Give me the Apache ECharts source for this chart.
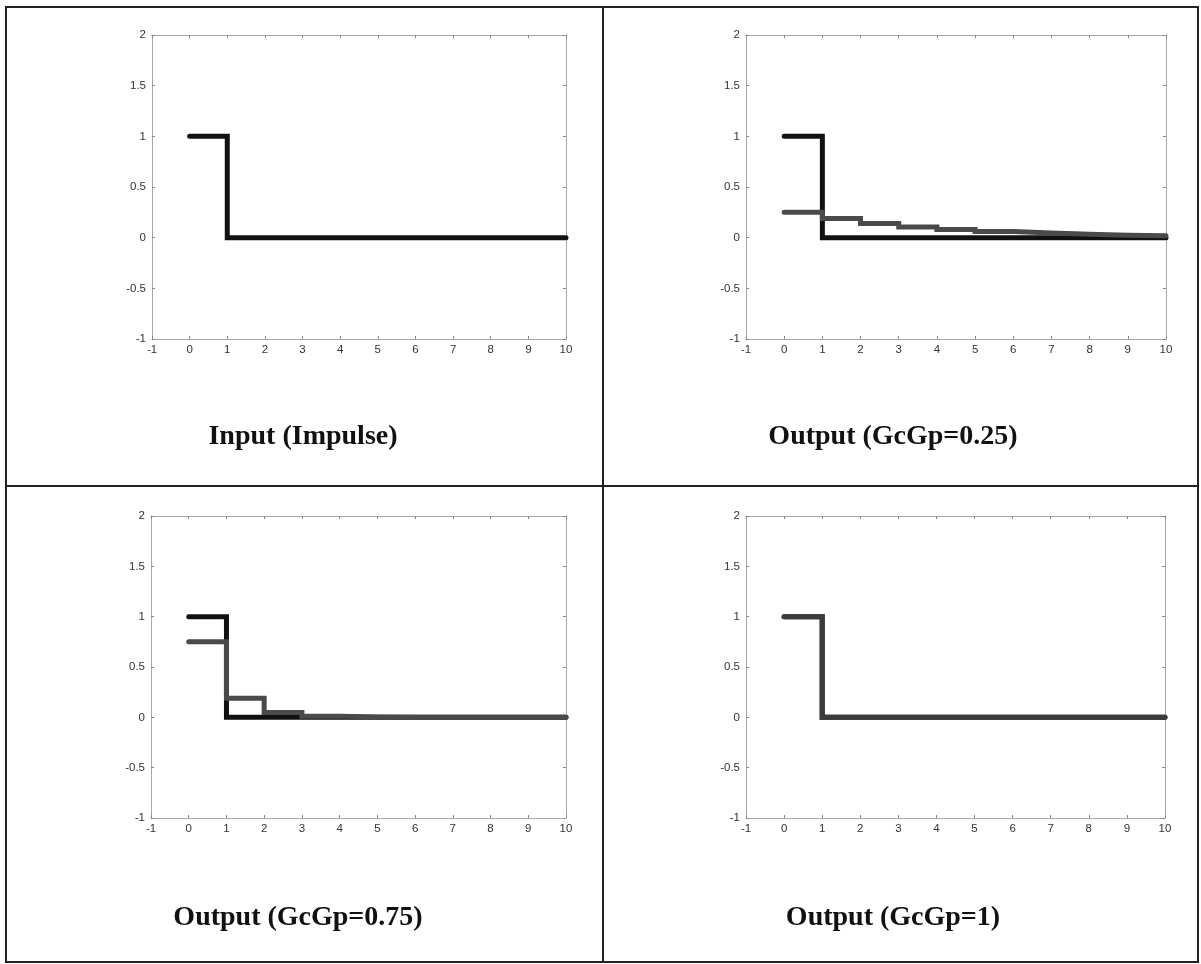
<!DOCTYPE html>
<html>
<head>
<meta charset="utf-8">
<script src="https://cdn.jsdelivr.net/npm/echarts@6/dist/echarts.min.js"></script>
<style>
html,body{margin:0;padding:0;background:#fff;}
#c{width:1201px;height:964px;}
</style>
</head>
<body>
<div id="c"></div>
<script>
// ---- data ----
const sampleK = [0, 1, 2, 3, 4, 5, 6, 7, 8, 9, 10];
const inputImpulse = [1, 0, 0, 0, 0, 0, 0, 0, 0, 0, 0];
const outputGain025 = [0.25, 0.19, 0.14, 0.105, 0.08, 0.06, 0.045, 0.034, 0.025, 0.019, 0.014];
const outputGain075 = [0.75, 0.19, 0.047, 0.012, 0.003, 0.001, 0, 0, 0, 0, 0];
const outputGain1 = [1, 0, 0, 0, 0, 0, 0, 0, 0, 0, 0];
const panelTitles = ['Input (Impulse)', 'Output (GcGp=0.25)', 'Output (GcGp=0.75)', 'Output (GcGp=1)'];

const chart = echarts.init(document.getElementById('c'), null, {renderer: 'canvas'});

const grids = [
  {left: 152, top: 35, width: 414, height: 304},
  {left: 746, top: 35, width: 420, height: 304},
  {left: 151, top: 516, width: 415, height: 302},
  {left: 746, top: 516, width: 419, height: 302}
];

const axisColor = '#a8a8a8';
const labelFont = {color: '#333', fontSize: 11.5, fontFamily: 'Liberation Sans, Arial, sans-serif'};

const xAxes = [], yAxes = [];
grids.forEach((g, i) => {
  const common = {
    gridIndex: i, type: 'value',
    axisLine: {show: true, onZero: false, lineStyle: {color: axisColor, width: 1}},
    axisTick: {show: true, inside: true, length: 3, lineStyle: {color: '#888'}},
    splitLine: {show: false}
  };
  xAxes.push(Object.assign({}, common, {position: 'bottom', min: -1, max: 10, interval: 1,
    axisLabel: Object.assign({margin: 5}, labelFont)}));
  xAxes.push(Object.assign({}, common, {position: 'top', min: -1, max: 10, interval: 1,
    axisLabel: {show: false}}));
  yAxes.push(Object.assign({}, common, {position: 'left', min: -1, max: 2, interval: 0.5,
    axisLabel: Object.assign({margin: 6}, labelFont)}));
  yAxes.push(Object.assign({}, common, {position: 'right', min: -1, max: 2, interval: 0.5,
    axisLabel: {show: false}}));
});

function pts(vals) { return sampleK.map((k, i) => [k, vals[i]]); }

function stairs(i, vals, color, z) {
  return {
    type: 'line', xAxisIndex: i * 2, yAxisIndex: i * 2, step: 'end',
    data: pts(vals), symbol: 'none', silent: true, z: z,
    lineStyle: {color: color, width: 5, cap: 'round', join: 'miter'}
  };
}

const black = '#111111';
const gray = '#4a4a4a';

const series = [
  stairs(0, inputImpulse, black, 2),
  stairs(1, inputImpulse, black, 2),
  stairs(1, outputGain025, gray, 3),
  stairs(2, inputImpulse, black, 2),
  stairs(2, outputGain075, gray, 3),
  stairs(3, inputImpulse, black, 2),
  stairs(3, outputGain1, '#3c3c3c', 3)
];

const titleCenters = [[298, 435], [888, 435], [293, 916], [888, 916]];
const titles = panelTitles.map((t, i) => ({
  text: t, left: titleCenters[i][0], top: titleCenters[i][1] - 17, textAlign: 'center',
  textStyle: {fontFamily: 'Liberation Serif, Times New Roman, serif', fontWeight: 'bold', fontSize: 28, color: '#111'}
}));

chart.setOption({
  animation: false,
  backgroundColor: '#fff',
  title: titles,
  grid: grids,
  xAxis: xAxes,
  yAxis: yAxes,
  series: series,
  graphic: [
    {type: 'rect', shape: {x: 6, y: 7, width: 1192, height: 955}, style: {fill: 'none', stroke: '#222', lineWidth: 2}, silent: true},
    {type: 'line', shape: {x1: 603, y1: 7, x2: 603, y2: 962}, style: {stroke: '#222', lineWidth: 2}, silent: true},
    {type: 'line', shape: {x1: 6, y1: 486, x2: 1198, y2: 486}, style: {stroke: '#222', lineWidth: 2}, silent: true}
  ]
});
</script>
</body>
</html>
